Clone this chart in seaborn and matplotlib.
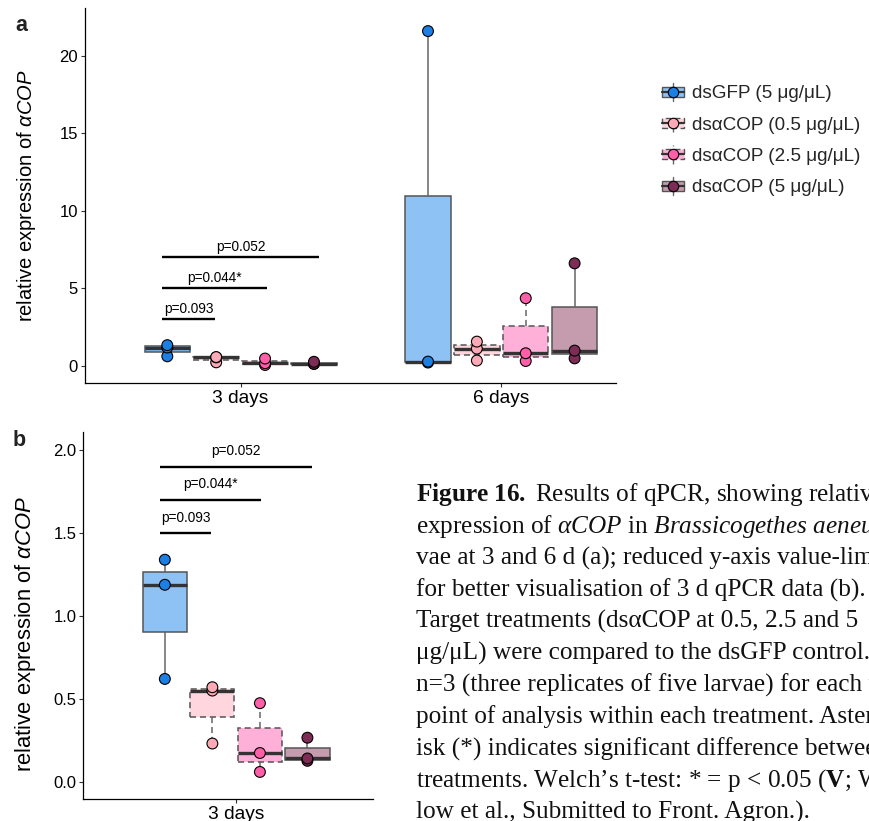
import numpy as np
import pandas as pd
import matplotlib
matplotlib.use("Agg")
import matplotlib.pyplot as plt
import seaborn as sns
from matplotlib.legend_handler import HandlerBase
from matplotlib.lines import Line2D
from matplotlib.patches import Rectangle, Patch

# ---------------- data ----------------
treatments = ["dsGFP (5 μg/μL)", "dsαCOP (0.5 μg/μL)", "dsαCOP (2.5 μg/μL)", "dsαCOP (5 μg/μL)"]
days = ["3 days", "6 days"]

gfp_3d = [0.623, 1.19, 1.341]
cop05_3d = [0.234, 0.553, 0.573]
cop25_3d = [0.063, 0.177, 0.477]
cop5_3d = [0.130, 0.144, 0.269]

gfp_6d = [0.22, 0.28, 21.6]
cop05_6d = [0.35, 1.12, 1.57]
cop25_6d = [0.32, 0.82, 4.37]
cop5_6d = [0.49, 0.99, 6.62]

# significance brackets (x as offset from the "3 days" category)
bracket_start = [-0.3, -0.3, -0.3]
bracket_end = [-0.1, 0.1, 0.3]
bracket_labels = ["p=0.093", "p=0.044*", "p=0.052"]
bracket_y_a = [3.0, 5.0, 7.0]
bracket_y_b = [1.5, 1.7, 1.9]

yticks_a = [0, 5, 10, 15, 20]
yticks_b = [0.0, 0.5, 1.0, 1.5, 2.0]

fill_colors = ["#8EC2F4", "#FFD6DE", "#FFB0D8", "#C59BAE"]
point_colors = ["#1C7FE3", "#FDAAB6", "#FF5EA9", "#7D2C55"]
box_styles = ["-", (0, (4, 2.5)), (0, (4, 2.5)), "-"]

caption_lines = [
    r"$\mathbf{Figure\ 16.}$ Results of qPCR, showing relative",
    r"expression of $\mathit{αCOP}$ in $\mathit{Brassicogethes\ aeneus}$ lar-",
    "vae at 3 and 6 d (a); reduced y-axis value-limit",
    "for better visualisation of 3 d qPCR data (b).",
    "Target treatments (dsαCOP at 0.5, 2.5 and 5",
    "μg/μL) were compared to the dsGFP control.",
    "n=3 (three replicates of five larvae) for each time",
    "point of analysis within each treatment. Aster-",
    "isk (*) indicates significant difference between",
    r"treatments. Welch’s t-test: * = p < 0.05 ($\mathbf{V}$; Wil-",
    "low et al., Submitted to Front. Agron.).",
]

# ---------------- long-form table ----------------
values = {
    ("3 days", treatments[0]): gfp_3d, ("3 days", treatments[1]): cop05_3d,
    ("3 days", treatments[2]): cop25_3d, ("3 days", treatments[3]): cop5_3d,
    ("6 days", treatments[0]): gfp_6d, ("6 days", treatments[1]): cop05_6d,
    ("6 days", treatments[2]): cop25_6d, ("6 days", treatments[3]): cop5_6d,
}
rows = []
for (d, t), vals in values.items():
    for v in vals:
        rows.append({"time": d, "treatment": t, "value": v})
df = pd.DataFrame(rows)

# ---------------- style ----------------
sns.set_style("ticks")
plt.rcParams["font.family"] = ["Liberation Sans", "DejaVu Sans"]
plt.rcParams["mathtext.fontset"] = "custom"
plt.rcParams["mathtext.rm"] = "Liberation Serif"
plt.rcParams["mathtext.it"] = "Liberation Serif:italic"
plt.rcParams["mathtext.bf"] = "Liberation Serif:bold"
plt.rcParams["mathtext.sf"] = "Liberation Sans:italic"

W, H = 869, 821
fig = plt.figure(figsize=(W / 100, H / 100), dpi=100)

def px_axes(left, top, right, bottom):
    return fig.add_axes([left / W, 1 - bottom / H, (right - left) / W, (bottom - top) / H])

ax_a = px_axes(85, 8.3, 616, 382.7)
ax_b = px_axes(83.3, 432, 373, 799)

BOX_W = 0.75

def draw_panel(ax, data, order, ylab_size):
    sns.boxplot(data=data, x="time", y="value", hue="treatment", order=order,
                hue_order=treatments, palette=fill_colors, saturation=1,
                width=BOX_W, gap=0.07, whis=1.5, showfliers=False, showcaps=False,
                linecolor="#555555", linewidth=1.1,
                medianprops=dict(color="#333333", linewidth=2.4),
                legend=False, ax=ax)
    for cont, ls in zip(ax.containers, box_styles):
        for b in cont.boxes:
            b.set_linestyle(ls)
        for w in cont.whiskers:
            w.set_linestyle(ls)
            w.set_color("#666666")
        for m in cont.medians:
            m.set_linestyle("-")
    n0 = len(ax.collections)
    sns.stripplot(data=data, x="time", y="value", hue="treatment", order=order,
                  hue_order=treatments, palette=point_colors, dodge=True, jitter=False,
                  size=7.8, edgecolor="black", linewidth=0.8, legend=False, ax=ax, zorder=4)
    for coll in ax.collections[n0:]:
        off = np.asarray(coll.get_offsets()).copy()
        if len(off):
            c = np.round(off[:, 0])
            off[:, 0] = c + (off[:, 0] - c) * (BOX_W / 0.8)
            coll.set_offsets(off)
    ax.set_xlabel("")
    ax.set_ylabel("relative expression of $\\mathsf{αCOP}$", fontsize=ylab_size, color="black")
    sns.despine(ax=ax)
    for s in ["left", "bottom"]:
        ax.spines[s].set_linewidth(0.9)
        ax.spines[s].set_color("black")
    ax.tick_params(axis="both", length=3, width=0.8, color="#333333", pad=2)
    ax.tick_params(axis="x", labelsize=13.8, labelcolor="black")
    ax.tick_params(axis="y", labelsize=12, labelcolor="black")

def draw_brackets(ax, ys, dy, fs):
    for x0, x1, y, lab in zip(bracket_start, bracket_end, ys, bracket_labels):
        ax.plot([x0, x1], [y, y], color="black", lw=1.7, solid_capstyle="butt", zorder=5)
        ax.text((x0 + x1) / 2, y + dy, lab, ha="center", va="center", fontsize=fs, color="black")

# panel a
draw_panel(ax_a, df, days, 14.5)
ax_a.set_xlim(-0.597, 1.44)
ax_a.set_ylim(-1.08, 23.07)
ax_a.set_yticks(yticks_a)
ax_a.set_yticklabels([str(v) for v in yticks_a])
draw_brackets(ax_a, bracket_y_a, 0.65, 9.8)
ax_a.yaxis.set_label_coords(-0.0885, 0.5)

# panel b
df_b = df[df["time"] == "3 days"]
draw_panel(ax_b, df_b, ["3 days"], 15.8)
ax_b.set_xlim(-0.603, 0.54)
ax_b.set_ylim(-0.10, 2.11)
ax_b.set_yticks(yticks_b)
ax_b.set_yticklabels([f"{v:.1f}" for v in yticks_b])
draw_brackets(ax_b, bracket_y_b, 0.095, 9.8)
ax_b.yaxis.set_label_coords(-0.158, 0.45)

# panel letters
fig.text(15 / W, 1 - 31 / H, "a", fontsize=15.5, weight="bold", va="baseline", color="#222222")
fig.text(13 / W, 1 - 446 / H, "b", fontsize=15.5, weight="bold", va="baseline", color="#222222")

# legend with box-plot keys
class BoxKey(HandlerBase):
    def __init__(self, fill, pt, ls):
        super().__init__()
        self.fill, self.pt, self.ls = fill, pt, ls

    def create_artists(self, legend, orig_handle, xdescent, ydescent, width, height, fontsize, trans):
        cx = width / 2 - xdescent
        cy = height / 2 - ydescent
        bh = height * 0.55
        vline = Line2D([cx, cx], [cy - height * 0.5, cy + height * 0.5], color="#666666",
                       lw=1.0, linestyle=self.ls)
        rect = Rectangle((-xdescent, cy - bh / 2), width, bh, facecolor=self.fill,
                         edgecolor="#555555", lw=1.0, linestyle=self.ls)
        med = Line2D([-xdescent, width - xdescent], [cy, cy], color="#333333", lw=1.6)
        dot = Line2D([cx], [cy], marker="o", markersize=7.5, markerfacecolor=self.pt,
                     markeredgecolor="black", markeredgewidth=0.8, linestyle="none")
        arts = [vline, rect, med, dot]
        for a in arts:
            a.set_transform(trans)
        return arts

handles = [Patch() for _ in treatments]
hmap = {h: BoxKey(f, p, ls) for h, f, p, ls in zip(handles, fill_colors, point_colors, box_styles)}
fig.legend(handles, treatments, handler_map=hmap, loc="upper left",
           bbox_to_anchor=(662 / W, 1 - 83 / H), frameon=False, fontsize=13.6,
           handlelength=1.15, handleheight=1.1, handletextpad=0.45, labelspacing=0.62,
           borderpad=0, borderaxespad=0)

# caption
for i, line in enumerate(caption_lines):
    fig.text(416 / W, 1 - (500.7 + 31.8 * i) / H, line, fontsize=18.2,
             family="Liberation Serif", va="baseline", ha="left", color="#111111")

fig.savefig("out.png", dpi=100)
